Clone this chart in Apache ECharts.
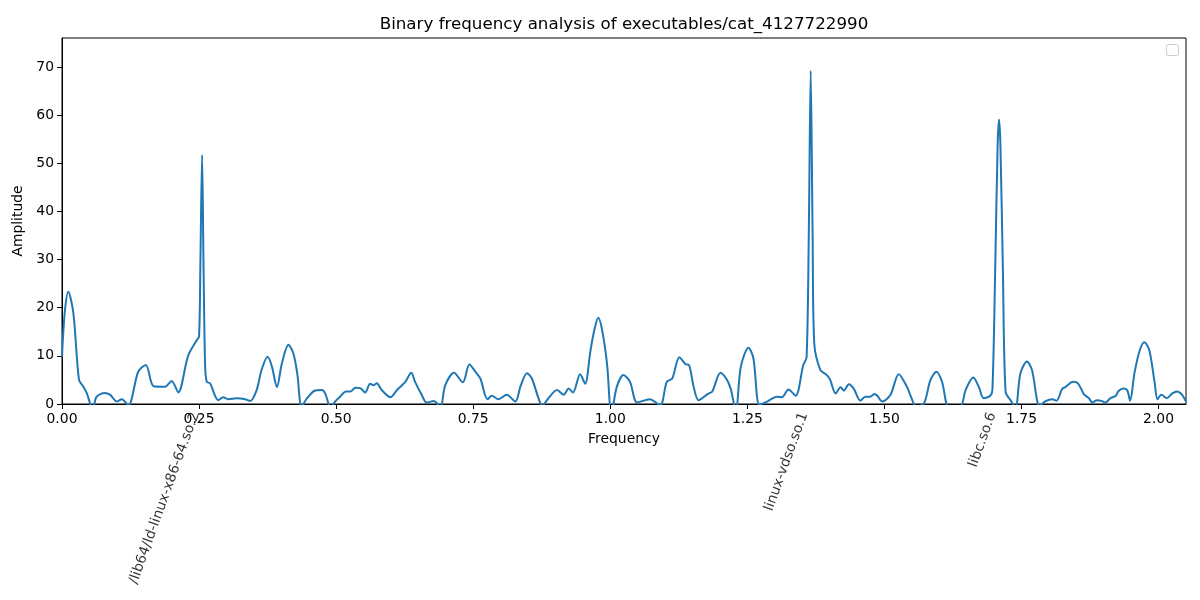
<!DOCTYPE html>
<html>
<head>
<meta charset="utf-8">
<title>Binary frequency analysis</title>
<script src="https://cdn.jsdelivr.net/npm/echarts@6/dist/echarts.min.js"></script>
<style>
    html, body { margin: 0; padding: 0; background: #fff; }
    #chart { width: 1200px; height: 600px; }
</style>
</head>
<body>
<div id="chart"></div>
<script>
    // 频率（x）与幅值（y）
    const freqs = [
        0.000, 0.005, 0.0115, 0.0207, 0.031, 0.039, 0.045, 0.056, 0.063, 0.078,
        0.088, 0.100, 0.109, 0.121, 0.139, 0.153, 0.167, 0.188, 0.200, 0.212,
        0.230, 0.246, 0.250, 0.2525, 0.2555, 0.258, 0.261, 0.264, 0.270, 0.285,
        0.294, 0.303, 0.319, 0.334, 0.343, 0.355, 0.364, 0.375, 0.383, 0.392,
        0.401, 0.413, 0.422, 0.429, 0.437, 0.447, 0.460, 0.474, 0.480, 0.490,
        0.498, 0.507, 0.518, 0.526, 0.535, 0.544, 0.553, 0.562, 0.568, 0.574,
        0.583, 0.599, 0.611, 0.626, 0.637, 0.644, 0.656, 0.665, 0.678, 0.690,
        0.699, 0.715, 0.731, 0.743, 0.754, 0.763, 0.776, 0.784, 0.796, 0.811,
        0.827, 0.836, 0.848, 0.857, 0.869, 0.876, 0.887, 0.903, 0.915, 0.924,
        0.932, 0.945, 0.954, 0.964, 0.971, 0.978, 0.985, 0.994, 1.002, 1.012,
        1.024, 1.036, 1.049, 1.072, 1.091, 1.103, 1.113, 1.126, 1.137, 1.144,
        1.152, 1.161, 1.178, 1.186, 1.201, 1.213, 1.220, 1.229, 1.238, 1.252,
        1.261, 1.272, 1.286, 1.304, 1.313, 1.325, 1.338, 1.352, 1.358, 1.362,
        1.3655, 1.369, 1.372, 1.383, 1.395, 1.401, 1.411, 1.420, 1.426, 1.435,
        1.444, 1.456, 1.465, 1.474, 1.482, 1.487, 1.496, 1.511, 1.526, 1.541,
        1.547, 1.558, 1.572, 1.584, 1.595, 1.605, 1.618, 1.639, 1.648, 1.662,
        1.672, 1.681, 1.693, 1.697, 1.702, 1.7065, 1.709, 1.7115, 1.716, 1.721,
        1.730, 1.739, 1.748, 1.760, 1.769, 1.783, 1.794, 1.806, 1.814, 1.824,
        1.830, 1.844, 1.853, 1.864, 1.873, 1.879, 1.888, 1.897, 1.903, 1.912,
        1.922, 1.927, 1.936, 1.943, 1.948, 1.956, 1.965, 1.974, 1.983, 1.993,
        1.998, 2.005, 2.015, 2.025, 2.034, 2.043, 2.050
    ];
    const amps = [
        9.8, 19.0, 23.3, 18.9, 5.0, 3.6, 2.3, -1.0, 1.5, 2.3,
        1.9, 0.5, 1.0, -0.3, 6.7, 8.1, 3.7, 3.6, 4.8, 2.4,
        10.0, 13.3, 14.0, 30.0, 51.7, 30.0, 8.0, 4.6, 4.3, 0.8,
        1.4, 1.0, 1.2, 1.0, 0.6, 2.9, 7.1, 9.8, 7.7, 3.5,
        8.4, 12.3, 10.5, 6.4, -0.5, 1.2, 2.7, 2.9, 2.2, -0.8,
        0.5, 1.5, 2.6, 2.6, 3.4, 3.3, 2.4, 4.2, 3.9, 4.3,
        2.9, 1.4, 2.9, 4.6, 6.5, 4.6, 1.9, 0.3, 0.6, -0.6,
        3.9, 6.5, 4.5, 8.2, 6.7, 5.3, 1.0, 1.7, 1.0, 1.9,
        0.5, 3.6, 6.4, 5.3, 1.2, -0.4, 1.2, 2.9, 1.9, 3.2,
        2.4, 6.2, 4.2, 11.2, 15.4, 17.9, 15.4, 8.4, -2.0, 3.6,
        6.0, 4.6, 0.3, 1.0, -0.3, 4.6, 5.3, 9.7, 8.3, 8.0,
        3.6, 0.8, 2.1, 2.6, 6.5, 5.0, 3.0, -1.5, 7.7, 11.7,
        9.5, -0.2, 0.5, 1.5, 1.4, 3.0, 1.7, 8.1, 9.7, 35.0,
        69.2, 35.0, 12.6, 7.1, 6.0, 5.0, 2.2, 3.5, 2.8, 4.1,
        3.2, 0.7, 1.5, 1.5, 2.1, 1.7, 0.5, 1.9, 6.2, 3.6,
        1.9, -0.5, 0.1, 5.0, 6.7, 4.6, -0.8, -0.5, 2.9, 5.5,
        3.6, 1.2, 1.7, 3.0, 28.0, 54.0, 59.1, 54.0, 28.0, 2.5,
        0.8, -0.8, 6.4, 8.8, 7.1, -0.4, 0.6, 1.0, 0.7, 3.1,
        3.5, 4.6, 4.3, 2.0, 1.2, 0.3, 0.8, 0.6, 0.3, 1.2,
        1.7, 2.7, 3.2, 2.8, 0.7, 6.4, 10.9, 12.8, 11.2, 4.3,
        1.0, 1.9, 1.2, 2.2, 2.6, 1.9, 0.5
    ];
    // 库名标注
    const libNames = ['/lib64/ld-linux-x86-64.so.2', 'linux-vdso.so.1', 'libc.so.6'];
    const libFreqs = [0.2555, 1.3655, 1.709];
    // 刻度
    const xTicks = [0, 0.25, 0.5, 0.75, 1.0, 1.25, 1.5, 1.75, 2.0];
    const yTicks = [0, 10, 20, 30, 40, 50, 60, 70];

    const font = 'DejaVu Sans';
    let myChart = echarts.init(document.getElementById('chart'), null, { renderer: 'canvas' });
    let option = {
        animation: false,
        title: {
            text: 'Binary frequency analysis of executables/cat_4127722990',
            left: 624,
            top: 16,
            padding: 0,
            textAlign: 'center',
            textStyle: {
                fontFamily: font,
                fontSize: 16.7,
                fontWeight: 'normal',
                color: '#000'
            }
        },
        grid: {
            left: 62,
            right: 14,
            top: 38,
            bottom: 196,
            show: true,
            borderColor: '#000',
            borderWidth: 1,
            containLabel: false
        },
        xAxis: {
            type: 'value',
            min: 0,
            max: 2.05,
            name: 'Frequency',
            nameLocation: 'middle',
            nameGap: 28,
            nameTextStyle: { fontFamily: font, fontSize: 13.9, color: '#000' },
            axisLine: { onZero: false, lineStyle: { color: '#000', width: 1 } },
            axisTick: { length: 5, lineStyle: { color: '#000' }, customValues: xTicks },
            axisLabel: {
                fontFamily: font, fontSize: 13.9, color: '#000', margin: 8,
                customValues: xTicks,
                formatter: v => v.toFixed(2)
            },
            splitLine: { show: false }
        },
        yAxis: {
            type: 'value',
            min: 0,
            max: 76,
            name: 'Amplitude',
            nameLocation: 'middle',
            nameGap: 31,
            nameRotate: 90,
            nameTextStyle: { fontFamily: font, fontSize: 13.9, color: '#000' },
            axisLine: { show: true, onZero: false, lineStyle: { color: '#000', width: 1 } },
            axisTick: { show: true, length: 5, lineStyle: { color: '#000' }, customValues: yTicks },
            axisLabel: {
                fontFamily: font, fontSize: 13.9, color: '#000', margin: 8,
                customValues: yTicks
            },
            splitLine: { show: false }
        },
        series: [
            {
                type: 'line',
                data: freqs.map((f, i) => [f, amps[i]]),
                showSymbol: false,
                smooth: 0.3,
                clip: true,
                lineStyle: { color: '#1f77b4', width: 2 },
                z: 3
            },
            {
                // 库名标注，放在对应峰值的频率位置
                type: 'scatter',
                data: libFreqs.map((f, i) => [f, 0, libNames[i]]),
                symbolSize: 1,
                itemStyle: { color: 'rgba(0,0,0,0)' },
                clip: false,
                silent: true,
                label: {
                    show: true,
                    formatter: p => p.data[2],
                    position: [-14, -1],
                    offset: [-7, 11],
                    rotate: 70,
                    align: 'right',
                    verticalAlign: 'middle',
                    fontFamily: font,
                    fontSize: 13.9,
                    color: '#000'
                },
                z: 4
            }
        ],
        graphic: [
            {
                // 空图例框
                type: 'rect',
                shape: { x: 1166.5, y: 44.5, width: 12, height: 11, r: 2 },
                style: { fill: '#fff', stroke: '#cccccc', lineWidth: 1 },
                z: 10
            }
        ]
    };
    myChart.setOption(option);
</script>
</body>
</html>
